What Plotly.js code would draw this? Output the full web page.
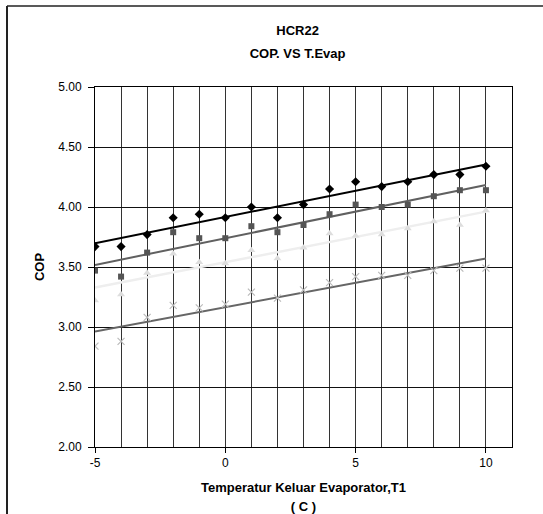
<!DOCTYPE html>
<html>
<head>
<meta charset="utf-8">
<script src="https://cdn.plot.ly/plotly-3.0.1.min.js"></script>
<style>
  html, body { margin: 0; padding: 0; background: #fff; }
  #chart { width: 543px; height: 514px; }
</style>
</head>
<body>
<div id="chart"></div>
<script>
// Evaporator outlet temperature T1 (C)
var temps = [-5, -4, -3, -2, -1, 0, 1, 2, 3, 4, 5, 6, 7, 8, 9, 10];

// COP series
var copDiamond  = [3.67, 3.67, 3.77, 3.91, 3.94, 3.91, 4.00, 3.91, 4.02, 4.15, 4.21, 4.17, 4.21, 4.27, 4.27, 4.34];
var copSquare   = [3.47, 3.42, 3.62, 3.79, 3.74, 3.74, 3.84, 3.79, 3.85, 3.94, 4.02, 4.00, 4.02, 4.09, 4.14, 4.14];
var copTriangle = [3.22, 3.27, 3.45, 3.61, 3.54, 3.53, 3.64, 3.57, 3.66, 3.78, 3.76, 3.77, 3.82, 3.88, 3.85, 3.97];
var copCross    = [2.84, 2.88, 3.08, 3.18, 3.16, 3.19, 3.29, 3.24, 3.31, 3.37, 3.42, 3.43, 3.43, 3.47, 3.49, 3.49];

var yTickVals = [2.00, 2.50, 3.00, 3.50, 4.00, 4.50, 5.00];
var xTickVals = [-5, 0, 5, 10];

var FONT = 'Liberation Sans, Arial, Helvetica, sans-serif';

// Linear least-squares trend line (as the spreadsheet's linear trendline)
function linearTrend(xs, ys) {
  var n = xs.length, sx = 0, sy = 0, sxx = 0, sxy = 0;
  for (var i = 0; i < n; i++) { sx += xs[i]; sy += ys[i]; sxx += xs[i]*xs[i]; sxy += xs[i]*ys[i]; }
  var b = (n*sxy - sx*sy) / (n*sxx - sx*sx);
  var a = (sy - b*sx) / n;
  var x0 = Math.min.apply(null, xs), x1 = Math.max.apply(null, xs);
  return { x: [x0, x1], y: [a + b*x0, a + b*x1] };
}

var series = [
  { y: copDiamond,  symbol: 'diamond',     mcolor: '#000000', msize: 7, lcolor: '#000000', lwidth: 2 },
  { y: copSquare,   symbol: 'square',      mcolor: '#555555', msize: 6, lcolor: '#606060', lwidth: 2 },
  { y: copTriangle, symbol: 'triangle-up', mcolor: '#dddddd', msize: 7, lcolor: '#eeeeee', lwidth: 2.5 },
  { y: copCross,    symbol: 'x-thin-open', mcolor: '#bbbbbb', msize: 7, lcolor: '#666666', lwidth: 2 }
];

var traces = [];
series.forEach(function (s) {
  var t = linearTrend(temps, s.y);
  traces.push({
    x: t.x, y: t.y, mode: 'lines', type: 'scatter', hoverinfo: 'skip',
    line: { color: s.lcolor, width: s.lwidth }, showlegend: false
  });
});
series.forEach(function (s) {
  traces.push({
    x: temps, y: s.y, mode: 'markers', type: 'scatter', showlegend: false,
    marker: { symbol: s.symbol, color: s.mcolor, size: s.msize,
              line: { color: s.mcolor, width: s.symbol === 'x-thin-open' ? 1.2 : 0 } }
  });
});

var layout = {
  width: 543, height: 514,
  margin: { l: 95, r: 31, t: 87, b: 67 },
  paper_bgcolor: '#ffffff', plot_bgcolor: '#ffffff',
  font: { family: FONT, color: '#000000', size: 12 },
  showlegend: false,
  title: {
    text: '<span style="font-size:13px">HCR22</span><br><span style="font-size:13px">COP. VS T.Evap</span>',
    font: { family: FONT, size: 18, color: '#000000', weight: 'bold' },
    x: 0.548, xanchor: 'center', xref: 'container',
    y: 1 - 34.5/514, yanchor: 'middle', yref: 'container'
  },
  xaxis: {
    range: [-5, 11], tickvals: xTickVals, ticktext: xTickVals.map(String),
    ticks: 'outside', ticklen: 5, tickcolor: '#000', tickwidth: 1,
    showgrid: true, gridcolor: '#333333', gridwidth: 1,
    minor: { dtick: 1, tick0: -5, showgrid: true, gridcolor: '#333333', gridwidth: 1, ticks: '' },
    showline: true, linecolor: '#000', linewidth: 1, mirror: true,
    zeroline: false,
    tickfont: { family: FONT, size: 12, color: '#000' },
    title: {
      text: '<span style="font-size:13px">Temperatur Keluar Evaporator,T1</span><br><span style="font-size:13px">( C )</span>',
      font: { family: FONT, size: 14.6, color: '#000', weight: 'bold' },
      standoff: 13
    }
  },
  yaxis: {
    range: [2, 5], tickvals: yTickVals, tickformat: '.2f',
    ticks: 'outside', ticklen: 6, tickcolor: '#000', tickwidth: 1,
    ticklabelstandoff: 4,
    showgrid: true, gridcolor: '#111111', gridwidth: 1,
    showline: true, linecolor: '#000', linewidth: 1, mirror: true,
    zeroline: false,
    tickfont: { family: FONT, size: 12, color: '#000' },
    title: { text: 'COP', font: { family: FONT, size: 13, color: '#000', weight: 'bold' }, standoff: 10 }
  },
  shapes: [
    { type: 'line', xref: 'paper', yref: 'paper', x0: (7-95)/417, x1: (7-95)/417, y0: -0.3, y1: 1 + (87-6)/360,
      line: { color: '#222', width: 2 } },
    { type: 'line', xref: 'paper', yref: 'paper', x0: (7-95)/417, x1: 1.2, y0: 1 + (87-6)/360, y1: 1 + (87-6)/360,
      line: { color: '#222', width: 1.5 } }
  ]
};

Plotly.newPlot('chart', traces, layout, { staticPlot: true, displayModeBar: false });
</script>
</body>
</html>
